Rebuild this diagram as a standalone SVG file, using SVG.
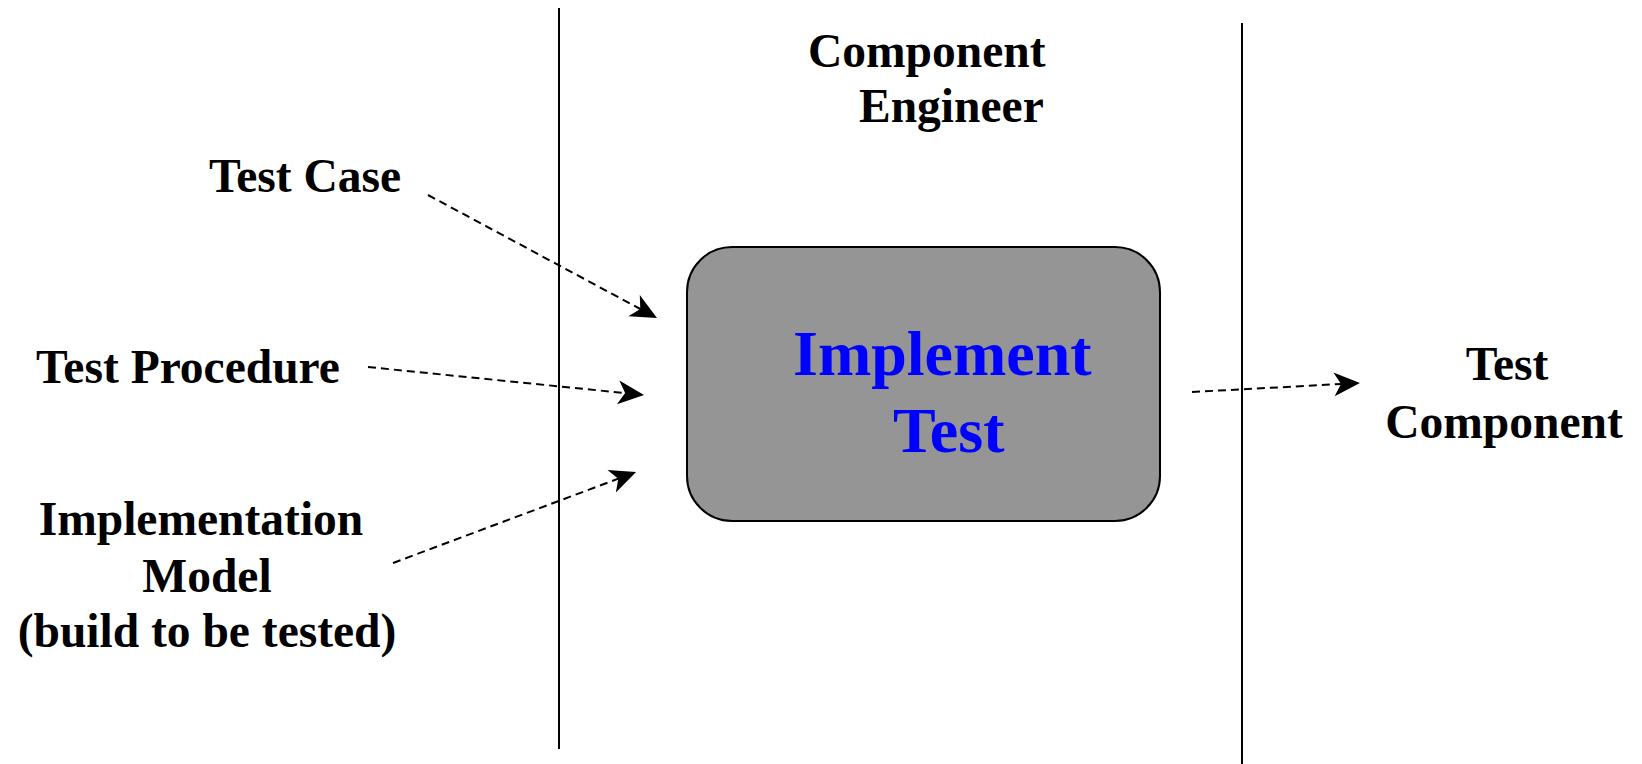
<svg xmlns="http://www.w3.org/2000/svg" width="1642" height="764" viewBox="0 0 1642 764">
  <style>
    .lbl { font-family: "Liberation Serif", "Times New Roman", serif; font-weight: bold; font-size: 47.5px; fill: #000; }
    .title { font-family: "Liberation Serif", "Times New Roman", serif; font-weight: bold; font-size: 64px; fill: #0000FF; }
    .lane { stroke: #000; stroke-width: 2; fill: none; }
    .flow { stroke: #000; stroke-width: 2; fill: none; stroke-dasharray: 8 5; }
  </style>
  <defs>
    <marker id="arrow" markerUnits="userSpaceOnUse" viewBox="-12 -13 28 26" refX="0" refY="0" markerWidth="28" markerHeight="26" orient="auto">
      <path d="M15,0 L-11,-12 L-4,0 L-11,12 Z" fill="#000"/>
    </marker>
  </defs>
  <rect width="1642" height="764" fill="#fff"/>

  <g id="lanes">
    <line class="lane" x1="559" y1="8" x2="559" y2="749"/>
    <line class="lane" x1="1242" y1="23" x2="1242" y2="764"/>
  </g>

  <g id="role">
    <text class="lbl" x="808" y="67">Component</text>
    <text class="lbl" x="859" y="122">Engineer</text>
  </g>

  <g id="implement-test">
    <rect x="687" y="247" width="473" height="274" rx="45" ry="45" fill="#959595" stroke="#000" stroke-width="2"/>
    <text class="title" x="793" y="375">Implement</text>
    <text class="title" x="893" y="452">Test</text>
  </g>

  <g id="test-case">
    <text class="lbl" x="305" y="192" text-anchor="middle">Test Case</text>
  </g>

  <g id="test-procedure">
    <text class="lbl" x="188" y="383" text-anchor="middle">Test Procedure</text>
  </g>

  <g id="implementation-model">
    <text class="lbl" x="201" y="535" text-anchor="middle">Implementation</text>
    <text class="lbl" x="207" y="592" text-anchor="middle">Model</text>
    <text class="lbl" x="207" y="647" text-anchor="middle">(build to be tested)</text>
  </g>

  <g id="test-component">
    <text class="lbl" x="1507" y="380" text-anchor="middle">Test</text>
    <text class="lbl" x="1504" y="438" text-anchor="middle">Component</text>
  </g>

  <g id="connectors">
    <line class="flow" x1="428" y1="195" x2="643.8" y2="310.9" marker-end="url(#arrow)"/>
    <line class="flow" x1="368" y1="367" x2="629.1" y2="393.5" marker-end="url(#arrow)"/>
    <line class="flow" x1="393" y1="563" x2="622" y2="477.3" marker-end="url(#arrow)"/>
    <line class="flow" x1="1192" y1="392" x2="1345" y2="383.8" marker-end="url(#arrow)"/>
  </g>
</svg>
